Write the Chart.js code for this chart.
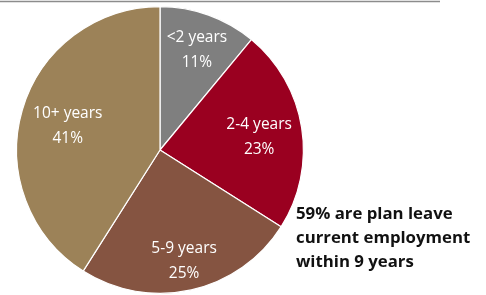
<!DOCTYPE html>
<html><head><meta charset="utf-8">
<script src="https://cdn.jsdelivr.net/npm/chart.js@4"></script>
<style>html,body{margin:0;padding:0;background:#fff;}#wrap{width:486px;height:295px;position:relative;}</style>
</head><body><div id="wrap"><canvas id="c" width="486" height="295"></canvas></div>
<script>
const categories = ["<2 years", "2-4 years", "5-9 years", "10+ years"];
const values = [11, 23, 25, 41];
const colors = ["#7F7F7F", "#9A0020", "#855441", "#9C8258"];
const annotationLines = ["59% are plan leave", "current employment", "within 9 years"];
const labelRadius = [0.76, 0.7, 0.77, 0.67];

const plugin = {
  id: 'custom',
  beforeDraw(chart) {
    const ctx = chart.ctx;
    ctx.save();
    ctx.strokeStyle = '#8C8C8C';
    ctx.lineWidth = 1.5;
    ctx.beginPath(); ctx.moveTo(0, 1.5); ctx.lineTo(440, 1.5); ctx.stroke();
    ctx.restore();
  },
  afterDraw(chart) {
    const ctx = chart.ctx;
    const meta = chart.getDatasetMeta(0);
    ctx.save();
    ctx.fillStyle = '#fff';
    ctx.font = '15.5px "Open Sans", sans-serif';
    ctx.textAlign = 'center'; ctx.textBaseline = 'middle';
    meta.data.forEach((arc, i) => {
      const p = arc.getProps(['x','y','startAngle','endAngle','outerRadius'], true);
      const a = (p.startAngle + p.endAngle) / 2;
      const r = p.outerRadius * labelRadius[i];
      const cx = p.x + Math.cos(a) * r, cy = p.y + Math.sin(a) * r + 3;
      ctx.fillText(categories[i], cx, cy - 12.5);
      ctx.fillText(values[i] + '%', cx, cy + 12.5);
    });
    ctx.fillStyle = '#111';
    ctx.font = 'bold 16.8px "Open Sans", sans-serif';
    ctx.textAlign = 'left';
    annotationLines.forEach((t, i) => ctx.fillText(t, 296, 214 + i * 24));
    ctx.restore();
  }
};

new Chart(document.getElementById('c'), {
  type: 'pie',
  data: { labels: categories, datasets: [{ data: values, backgroundColor: colors, borderColor: '#fff', borderWidth: 1.2, hoverOffset: 0 }] },
  options: {
    responsive: false, animation: false,
    layout: { padding: { left: 16, right: 182, top: 6, bottom: 1 } },
    plugins: { legend: { display: false }, tooltip: { enabled: false } }
  },
  plugins: [plugin]
});
</script></body></html>
